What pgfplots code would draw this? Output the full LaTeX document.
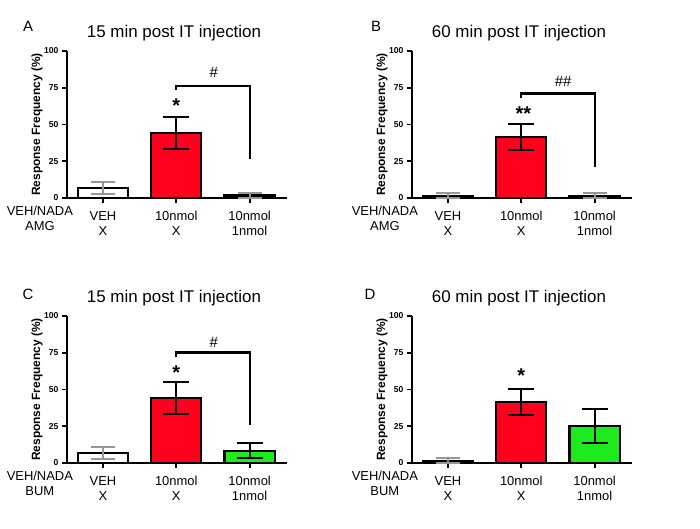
\documentclass[border=0pt]{standalone}
\usepackage{pgfplots}
\pgfplotsset{compat=1.18}
\usepackage{fontspec}
\setmainfont{Liberation Sans}
\definecolor{barred}{RGB}{255,0,30}
\definecolor{bargreen}{RGB}{30,235,30}
\definecolor{errgray}{RGB}{150,150,150}

\pgfplotsset{
 panel/.style={
  scale only axis, width=220bp, height=147bp,
  anchor=south west,
  xmin=-0.49, xmax=2.51, ymin=0, ymax=100,
  axis x line=bottom, axis y line=left,
  axis line style={line width=2.2bp, -},
  xtick={0,1,2}, ytick={0,25,50,75,100},
  tick align=outside, major tick length=5bp,
  tick style={line width=1.8bp, black},
  /pgf/number format/assume math mode=true,
  yticklabel style={font=\bfseries\fontsize{8.6}{10}\selectfont},
  xticklabel style={font=\fontsize{13}{15}\selectfont, align=center, yshift=-5bp},
  ylabel={Response Frequency (\%)},
  ylabel style={font=\bfseries\fontsize{12}{14}\selectfont, at={(axis description cs:-0.136,0.5)}, anchor=center},
  title style={font=\fontsize{17}{20}\selectfont, at={(axis description cs:0.5,1)}, anchor=base, yshift=8bp, xshift=-3bp},
  clip=false,
 },
 mybar/.style={ybar, bar shift=0pt, bar width=0.685, draw=black, line width=2.2bp, fill=#1,
   /pgfplots/error bars/y dir=both, /pgfplots/error bars/y explicit,
   /pgfplots/error bars/error bar style={line width=2bp, black},
   /pgfplots/error bars/error mark options={rotate=90, mark size=13bp, line width=2bp, black}},
 mybarG/.style={ybar, bar shift=0pt, bar width=0.685, draw=black, line width=2.2bp, fill=#1,
   /pgfplots/error bars/y dir=both, /pgfplots/error bars/y explicit,
   /pgfplots/error bars/error bar style={line width=2bp, errgray},
   /pgfplots/error bars/error mark options={rotate=90, mark size=12bp, line width=2bp, errgray}},
}
\tikzset{
 star/.style={anchor=base, font=\bfseries\fontsize{20}{20}\selectfont, inner sep=0pt},
 hash/.style={font=\fontsize{15}{15}\selectfont, inner sep=0pt},
 rowhead/.style={anchor=north, align=center, font=\fontsize{13}{15}\selectfont, yshift=-5bp},
 letter/.style={anchor=base, font=\fontsize{15}{15}\selectfont, inner sep=0pt},
}

\begin{document}
\begin{tikzpicture}[x=1bp,y=1bp]
\path[use as bounding box] (0,0) rectangle (700,529);

% Panel A
\begin{axis}[panel, at={(67bp,331bp)}, title={15 min post IT injection},
  xticklabels={{VEH\\X},{10nmol\\X},{10nmol\\1nmol}}]
\addplot[mybarG=white] coordinates {(0,6.7) +- (0,4.3)};
\addplot[mybar=barred] coordinates {(1,44.0) +- (0,10.8)};
\addplot[mybarG=white] coordinates {(2,1.7) +- (0,1.7)};
\draw[line width=2.2bp] (axis cs:1,73.4) -- (axis cs:1,76.3) -- (axis cs:2,76.3) -- (axis cs:2,26.4);
\node[hash] at (axis cs:1.51,85.7) {\#};
\node[star] at (axis cs:1,58.0) {*};
\node[rowhead] at (axis cs:-0.86,0) {VEH/NADA\\AMG};
\end{axis}

% Panel B
\begin{axis}[panel, at={(412bp,331bp)}, title={60 min post IT injection},
  xticklabels={{VEH\\X},{10nmol\\X},{10nmol\\1nmol}}]
\addplot[mybarG=white] coordinates {(0,1.6) +- (0,1.6)};
\addplot[mybar=barred] coordinates {(1,41.4) +- (0,8.9)};
\addplot[mybarG=white] coordinates {(2,1.6) +- (0,1.6)};
\draw[line width=2.2bp] (axis cs:1,67.7) -- (axis cs:1,71.1) -- (axis cs:2,71.1) -- (axis cs:2,21.1);
\node[hash] at (axis cs:1.57,79.5) {\#\#};
\node[star] at (axis cs:1.03,52.8) {**};
\node[rowhead] at (axis cs:-0.86,0) {VEH/NADA\\AMG};
\end{axis}

% Panel C
\begin{axis}[panel, at={(67bp,66bp)}, title={15 min post IT injection},
  xticklabels={{VEH\\X},{10nmol\\X},{10nmol\\1nmol}}]
\addplot[mybarG=white] coordinates {(0,6.7) +- (0,4.3)};
\addplot[mybar=barred] coordinates {(1,44.0) +- (0,10.8)};
\addplot[mybar=bargreen] coordinates {(2,8.4) +- (0,5.3)};
\draw[line width=2.2bp] (axis cs:1,72.0) -- (axis cs:1,75.2) -- (axis cs:2,75.2) -- (axis cs:2,25.7);
\node[hash] at (axis cs:1.51,82.3) {\#};
\node[star] at (axis cs:1,57.1) {*};
\node[rowhead] at (axis cs:-0.86,0) {VEH/NADA\\BUM};
\end{axis}

% Panel D
\begin{axis}[panel, at={(412bp,66bp)}, title={60 min post IT injection},
  xticklabels={{VEH\\X},{10nmol\\X},{10nmol\\1nmol}}]
\addplot[mybarG=white] coordinates {(0,1.6) +- (0,1.6)};
\addplot[mybar=barred] coordinates {(1,41.4) +- (0,8.9)};
\addplot[mybar=bargreen] coordinates {(2,25.2) +- (0,11.6)};
\node[star] at (axis cs:1,54.8) {*};
\node[rowhead] at (axis cs:-0.86,0) {VEH/NADA\\BUM};
\end{axis}

\node[letter] at (28,497) {A};
\node[letter] at (376,497) {B};
\node[letter] at (28,229) {C};
\node[letter] at (370,229) {D};
\end{tikzpicture}
\end{document}
